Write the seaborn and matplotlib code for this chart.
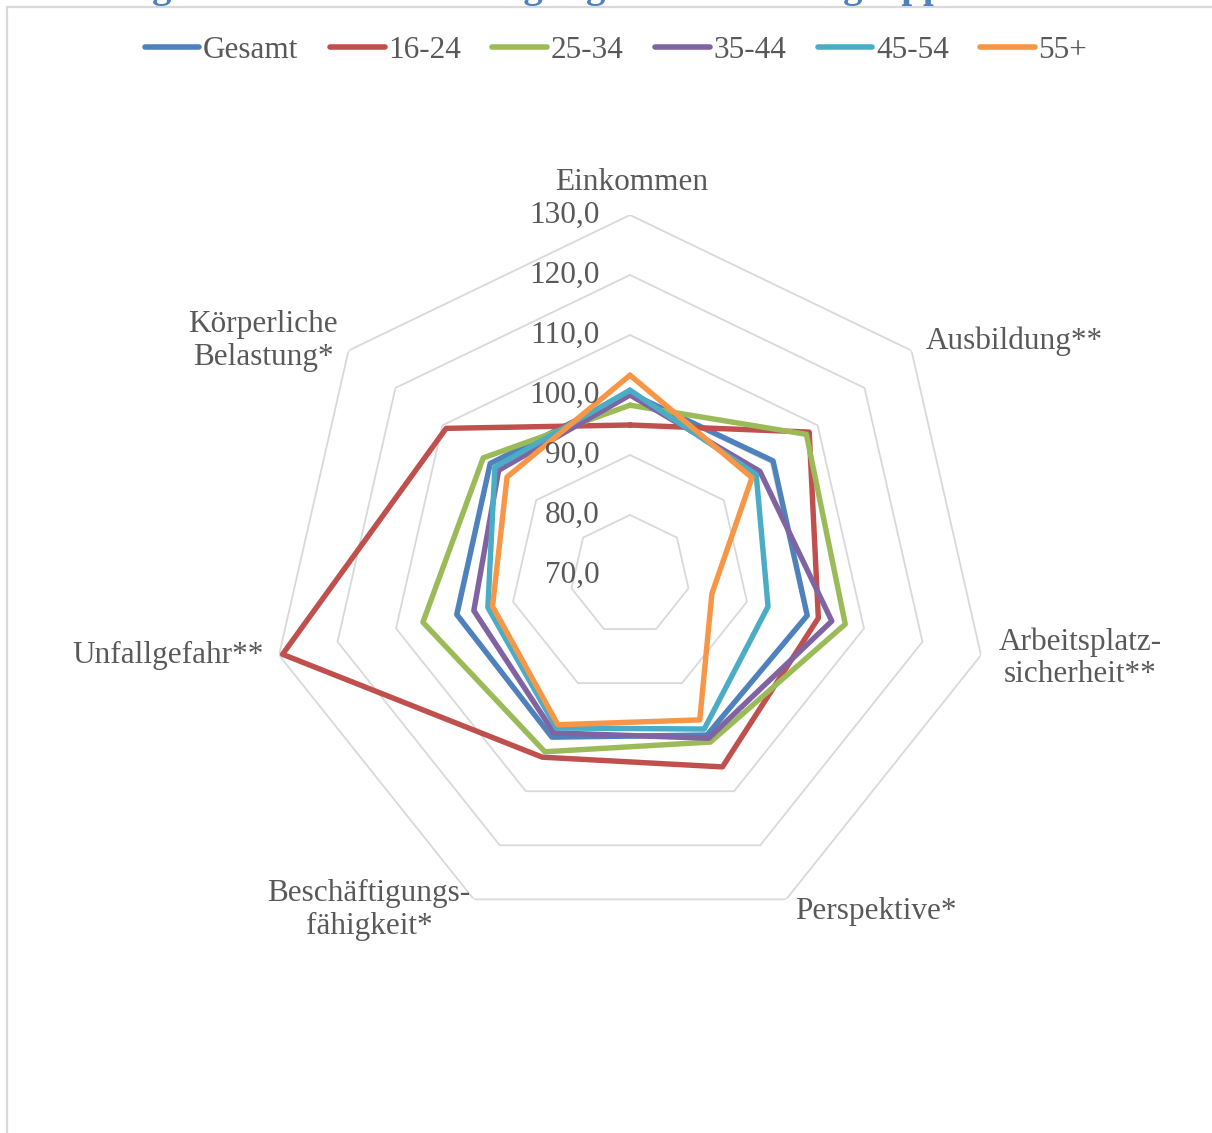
import numpy as np
import pandas as pd
import matplotlib
matplotlib.use("Agg")
import matplotlib.pyplot as plt
import seaborn as sns
from matplotlib.lines import Line2D

# Data (index values)
categories = ["Einkommen", "Ausbildung**", "Arbeitsplatz-\nsicherheit**", "Perspektive*",
              "Beschäftigungs-\nfähigkeit*", "Unfallgefahr**", "Körperliche\nBelastung*"]
groups = ["Gesamt", "16-24", "25-34", "35-44", "45-54", "55+"]
gesamt = [100.3, 100.5, 100.3, 99.6, 100.0, 99.6, 99.8]
age_16_24 = [95.0, 108.2, 102.2, 105.5, 103.7, 129.4, 109.2]
age_25_34 = [98.3, 107.6, 106.8, 100.9, 102.7, 105.4, 101.3]
age_35_44 = [100.0, 97.7, 104.5, 100.2, 99.2, 96.7, 98.0]
age_45_54 = [100.8, 96.9, 93.6, 98.5, 98.3, 94.3, 98.8]
age_55_plus = [103.3, 96.0, 84.0, 96.8, 97.7, 93.5, 96.2]
ring_values = [70, 80, 90, 100, 110, 120, 130]

colors = ["#4F81BD", "#C0504D", "#9BBB59", "#8064A2", "#4BACC6", "#F79646"]
text_color = "#595959"
grid_color = "#D9D9D9"

sns.set_theme(style="white")
plt.rcParams["font.family"] = ["Liberation Serif", "DejaVu Serif"]

# Long-form table, each polygon closed by repeating the first point
n = len(categories)
theta = np.linspace(0, 2 * np.pi, n, endpoint=False)
theta_closed = np.append(theta, 2 * np.pi)
rows = []
for name, vals in zip(groups, [gesamt, age_16_24, age_25_34, age_35_44, age_45_54, age_55_plus]):
    for t, v in zip(theta_closed, vals + vals[:1]):
        rows.append({"group": name, "theta": t, "value": v})
df = pd.DataFrame(rows)

W, H = 1212, 1133
fig = plt.figure(figsize=(W / 100, H / 100), dpi=100)
ax = fig.add_axes([270 / W, 198 / H, 720 / W, 720 / H], projection="polar")
ax.set_theta_zero_location("N")
ax.set_theta_direction(-1)
ax.set_facecolor("none")

# heptagon grid
for v in ring_values[1:]:
    ax.plot(theta_closed, [v] * len(theta_closed), color=grid_color, lw=1.3, zorder=0)

sns.lineplot(data=df, x="theta", y="value", hue="group", hue_order=groups,
             palette=colors, sort=False, estimator=None, lw=3.9, ax=ax, legend=False)

ax.set_ylim(70, 130)
ax.grid(False)
ax.set_xticks([])
ax.set_yticks([])
ax.spines["polar"].set_visible(False)
ax.set_xlabel("")
ax.set_ylabel("")

# radial value labels along the top spoke
for v in ring_values:
    ax.annotate(f"{v:.1f}".replace(".", ","), xy=(0, v), xytext=(-22, 0),
                textcoords="offset points", ha="right", va="center",
                fontsize=22.5, color=text_color, annotation_clip=False)

# category labels (pixel positions of label centres)
label_pos = [(632, 182), (1014, 341), (1080, 658), (876, 911),
             (369, 910), (168, 655), (263, 341)]
for lab, (px, py) in zip(categories, label_pos):
    fig.text(px / W, 1 - py / H, lab, ha="center", va="center", fontsize=22.5,
             color=text_color, linespacing=1.15, multialignment="center")

# legend
handles = [Line2D([], [], color=c, lw=4) for c in colors]
leg = fig.legend(handles, groups, loc="center", bbox_to_anchor=(616 / W, 1 - 50 / H),
                 ncol=6, frameon=False, fontsize=22.5, handlelength=1.75,
                 handletextpad=0.12, columnspacing=1.0, borderaxespad=0)
for t in leg.get_texts():
    t.set_color(text_color)

# chart area border (top and left edges visible)
fig.add_artist(Line2D([7 / W, 7 / W], [1 - 7 / H, 0], transform=fig.transFigure,
                      color=grid_color, lw=1.6))
fig.add_artist(Line2D([7 / W, 1], [1 - 7 / H, 1 - 7 / H], transform=fig.transFigure,
                      color=grid_color, lw=1.6))

# title, mostly cut off at the top edge as in the reference
fig.text(-6 / W, 1 + 3 / H, "Abbildung 12: Die Arbeitsbedingungen nach Altersgruppen",
         ha="left", va="baseline", fontsize=28, fontweight="bold", color="#4F81BD")

fig.savefig("out.png", dpi=100)
